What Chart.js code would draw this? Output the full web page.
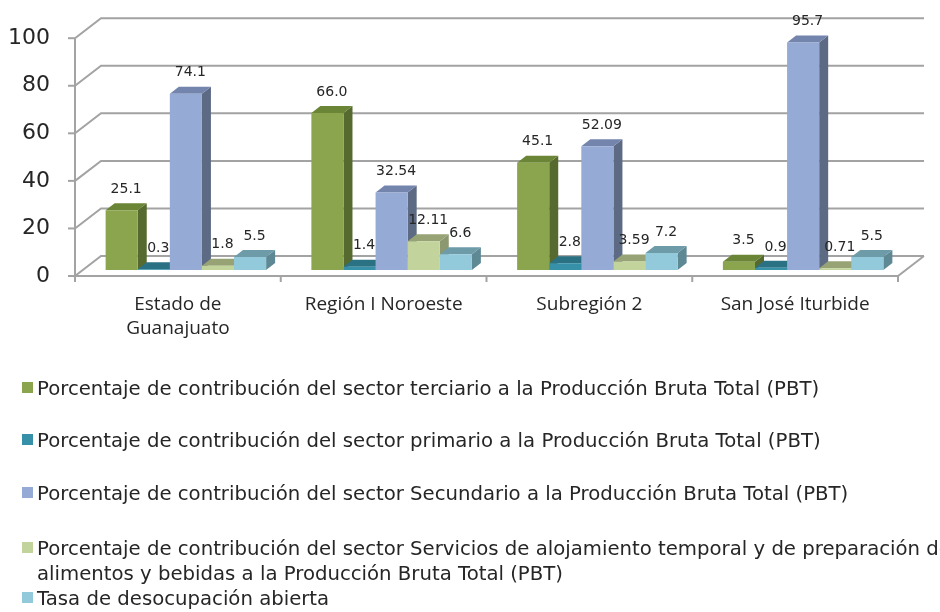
<!DOCTYPE html>
<html>
<head>
<meta charset="utf-8">
<script src="https://cdn.jsdelivr.net/npm/chart.js@4.4.1/dist/chart.umd.min.js"></script>
<style>
  html, body { margin: 0; padding: 0; background: #fff; }
</style>
</head>
<body>
<canvas id="chart" width="940" height="612"></canvas>
<script>
const categories = [["Estado de", "Guanajuato"], "Región I Noroeste", "Subregión 2", "San José Iturbide"];

// values kept as the strings printed on the bars (66.0 keeps its zero)
const terciario = ["25.1", "66.0", "45.1", "3.5"];
const primario = ["0.3", "1.4", "2.8", "0.9"];
const secundario = ["74.1", "32.54", "52.09", "95.7"];
const alojamiento = ["1.8", "12.11", "3.59", "0.71"];
const desocupacion = ["5.5", "6.6", "7.2", "5.5"];

const yMin = 0;
const yMax = 100;
const yStep = 20;

const seriesNames = [
  "Porcentaje de contribución del sector terciario a la Producción Bruta Total (PBT)",
  "Porcentaje de contribución del sector primario a la Producción Bruta Total (PBT)",
  "Porcentaje de contribución del sector Secundario a la Producción Bruta Total (PBT)",
  "Porcentaje de contribución del sector Servicios de alojamiento temporal y de preparación de\nalimentos y bebidas a la Producción Bruta Total (PBT)",
  "Tasa de desocupación abierta",
];
const seriesData = [terciario, primario, secundario, alojamiento, desocupacion];

const frontColors = ["#8aa54e", "#3590a8", "#95aad5", "#c2d49b", "#92c9db"];
const sideColors = ["#56692e", "#225f70", "#5d6a84", "#8c9970", "#5d8894"];
const topColors = ["#6b8537", "#2a7184", "#7384ad", "#97a375", "#6e9ba8"];

// 3d look: front plane -> back wall offset, bar plane offset, bar depth
const WALL_DX = 26, WALL_DY = -20;
const BAR_DX = 8, BAR_DY = -6;
const DEPTH_DX = 9, DEPTH_DY = -7;

const textColor = "#262626";
const gridColor = "#a3a3a3";

const pseudo3d = {
  id: "pseudo3d",
  beforeDatasetsDraw(chart) {
    const ctx = chart.ctx;
    const area = chart.chartArea;
    const y = chart.scales.y;
    ctx.save();
    ctx.strokeStyle = gridColor;
    ctx.lineWidth = 2;
    // walls: diagonal on side wall + line on back wall
    for (let v = yMin; v <= yMax; v += yStep) {
      const py = y.getPixelForValue(v);
      ctx.beginPath();
      ctx.moveTo(area.left, py);
      ctx.lineTo(area.left + WALL_DX, py + WALL_DY);
      ctx.lineTo(area.right + WALL_DX, py + WALL_DY);
      ctx.stroke();
      ctx.beginPath();
      ctx.moveTo(area.left - 7, py);
      ctx.lineTo(area.left, py);
      ctx.stroke();
    }
    ctx.beginPath();
    ctx.moveTo(area.left, y.getPixelForValue(yMax));
    ctx.lineTo(area.left, y.getPixelForValue(yMin));
    ctx.stroke();
    // floor front edge and right edge
    const base = y.getPixelForValue(yMin);
    ctx.beginPath();
    ctx.moveTo(area.left, base);
    ctx.lineTo(area.right, base);
    ctx.lineTo(area.right + WALL_DX, base + WALL_DY);
    ctx.stroke();
    const n = categories.length;
    for (let i = 0; i <= n; i++) {
      const px = area.left + (area.right - area.left) * i / n;
      ctx.beginPath();
      ctx.moveTo(px, base);
      ctx.lineTo(px, base + 6);
      ctx.stroke();
    }
    ctx.restore();

    // bars sit a bit behind the front plane
    ctx.save();
    ctx.translate(BAR_DX, BAR_DY);
    // side and top faces first, left to right, the fronts go over them
    chart.data.datasets.forEach((ds, i) => {
      chart.getDatasetMeta(i).data.forEach((bar) => {
        const p = bar.getProps(["x", "y", "base", "width"], true);
        const l = p.x - p.width / 2;
        const r = p.x + p.width / 2;
        ctx.fillStyle = sideColors[i];
        ctx.beginPath();
        ctx.moveTo(r, p.y);
        ctx.lineTo(r + DEPTH_DX, p.y + DEPTH_DY);
        ctx.lineTo(r + DEPTH_DX, p.base + DEPTH_DY);
        ctx.lineTo(r, p.base);
        ctx.closePath();
        ctx.fill();
        ctx.fillStyle = topColors[i];
        ctx.beginPath();
        ctx.moveTo(l, p.y);
        ctx.lineTo(l + DEPTH_DX, p.y + DEPTH_DY);
        ctx.lineTo(r + DEPTH_DX, p.y + DEPTH_DY);
        ctx.lineTo(r, p.y);
        ctx.closePath();
        ctx.fill();
      });
    });
  },
  afterDatasetsDraw(chart) {
    const ctx = chart.ctx;
    ctx.font = "14px 'DejaVu Sans'";
    ctx.fillStyle = textColor;
    ctx.textAlign = "center";
    ctx.textBaseline = "middle";
    chart.data.datasets.forEach((ds, i) => {
      chart.getDatasetMeta(i).data.forEach((bar, j) => {
        const p = bar.getProps(["x", "y"], true);
        ctx.fillText(ds.data[j], p.x + DEPTH_DX / 2, p.y - 21);
      });
    });
    ctx.restore();
  },
  afterDraw(chart) {
    const ctx = chart.ctx;
    const baselines = [395, 447, 500, 555, 605];
    ctx.save();
    ctx.font = "19.7px 'DejaVu Sans'";
    ctx.textAlign = "left";
    ctx.textBaseline = "alphabetic";
    seriesNames.forEach((name, i) => {
      const b = baselines[i];
      ctx.fillStyle = frontColors[i];
      ctx.fillRect(22, b - 13, 11, 11);
      ctx.fillStyle = textColor;
      name.split("\n").forEach((line, k) => {
        ctx.fillText(line, 37, b + k * 25);
      });
    });
    ctx.restore();
  },
};

new Chart(document.getElementById("chart"), {
  type: "bar",
  data: {
    labels: categories,
    datasets: seriesData.map((d, i) => ({
      label: seriesNames[i],
      data: d,
      backgroundColor: frontColors[i],
      borderWidth: 0,
      clip: false,
      categoryPercentage: 0.78,
      barPercentage: 1.0,
    })),
  },
  options: {
    responsive: false,
    animation: false,
    devicePixelRatio: 1,
    layout: { padding: { top: 35, right: 42, left: 0, bottom: 0 } },
    plugins: { legend: { display: false }, tooltip: { enabled: false } },
    scales: {
      x: {
        grid: { display: false, drawTicks: false },
        border: { display: false },
        ticks: {
          font: { family: "Open Sans", size: 19, lineHeight: 1.3 },
          color: textColor,
          padding: 16,
          maxRotation: 0,
          autoSkip: false,
        },
        afterFit: (s) => { s.height = 336; },
      },
      y: {
        min: yMin,
        max: yMax,
        ticks: {
          stepSize: yStep,
          font: { family: "DejaVu Sans", size: 22 },
          color: textColor,
          padding: 25,
        },
        grid: { display: false, drawTicks: false },
        border: { display: false },
        afterFit: (s) => { s.width = 75; },
      },
    },
  },
  plugins: [pseudo3d],
});
</script>
</body>
</html>
